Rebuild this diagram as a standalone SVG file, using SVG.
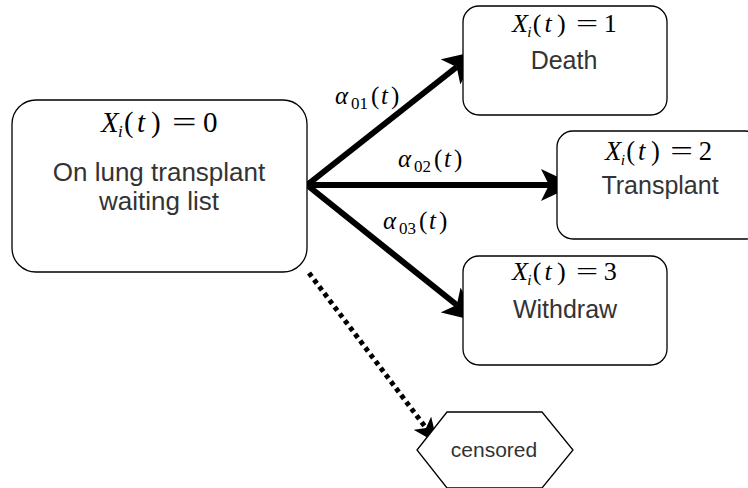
<svg xmlns="http://www.w3.org/2000/svg" width="748" height="488" viewBox="0 0 748 488">
<style>
.box{fill:#fff;stroke:#000;stroke-width:1.3}
.lbl{font-family:"Liberation Sans",Arial,sans-serif;font-size:25px;fill:#333;text-anchor:middle}
.big{font-size:26px}
.sm{font-family:"Liberation Sans",Arial,sans-serif;font-size:21px;fill:#333;text-anchor:middle}
.m{font-family:"Liberation Serif","Times New Roman",serif;font-size:29px;fill:#000}
.ma{font-family:"Liberation Serif","Times New Roman",serif;font-size:25px;fill:#000}
.i{font-style:italic}
.sub{font-size:17px}
.e{fill:none;stroke:#000;stroke-width:6}
.d{fill:none;stroke:#000;stroke-width:5;stroke-dasharray:4.5 4}
</style>
<defs>
<marker id="ah" viewBox="0 0 34 32" refX="8" refY="16" markerWidth="34" markerHeight="32" markerUnits="userSpaceOnUse" orient="auto">
<path d="M0,0 L34,16 L0,32 L8,16 Z" fill="#000"/>
</marker>
<marker id="ah2" viewBox="0 0 25 22" refX="6" refY="11" markerWidth="25" markerHeight="22" markerUnits="userSpaceOnUse" orient="auto">
<path d="M0,0 L25,11 L0,22 L6,11 Z" fill="#000"/>
</marker>
</defs>
<g id="connectors">
<line class="e" x1="307" y1="185" x2="456.7" y2="67" marker-end="url(#ah)"/>
<line class="e" x1="307" y1="185" x2="549" y2="185" marker-end="url(#ah)"/>
<line class="e" x1="307" y1="185" x2="456.8" y2="305" marker-end="url(#ah)"/>
<line class="d" x1="309" y1="273" x2="426" y2="428" marker-end="url(#ah2)"/>
<text class="ma" transform="translate(335,104)"><tspan class="i" x="0" y="0">α</tspan><tspan class="sub" x="16" y="5">01</tspan><tspan x="36" y="0">(</tspan><tspan class="i" x="46" y="0">t</tspan><tspan x="56" y="0">)</tspan></text>
<text class="ma" transform="translate(398,167)"><tspan class="i" x="0" y="0">α</tspan><tspan class="sub" x="16" y="5">02</tspan><tspan x="36" y="0">(</tspan><tspan class="i" x="46" y="0">t</tspan><tspan x="56" y="0">)</tspan></text>
<text class="ma" transform="translate(383,229)"><tspan class="i" x="0" y="0">α</tspan><tspan class="sub" x="16" y="5">03</tspan><tspan x="36" y="0">(</tspan><tspan class="i" x="46" y="0">t</tspan><tspan x="56" y="0">)</tspan></text>
</g>
<g id="waiting">
<rect class="box" x="12" y="100" width="295" height="172" rx="24"/>
<g transform="translate(101,132)">
<text class="m"><tspan class="i" x="0" y="0">X</tspan><tspan class="i sub" x="17" y="5">i</tspan><tspan x="23" y="0">(</tspan><tspan class="i" x="36" y="0">t</tspan><tspan x="50" y="0">)</tspan><tspan x="102" y="0">0</tspan></text>
<text class="m" transform="translate(71,0) scale(1.5,1)">=</text>
</g>
<text class="lbl big" x="159" y="181">On lung transplant</text>
<text class="lbl big" x="159" y="210">waiting list</text>
</g>
<g id="death">
<rect class="box" x="463" y="6" width="204" height="109" rx="16"/>
<g transform="translate(512,32) scale(0.9)">
<text class="m"><tspan class="i" x="0" y="0">X</tspan><tspan class="i sub" x="17" y="5">i</tspan><tspan x="23" y="0">(</tspan><tspan class="i" x="36" y="0">t</tspan><tspan x="50" y="0">)</tspan><tspan x="102" y="0">1</tspan></text>
<text class="m" transform="translate(71,0) scale(1.5,1)">=</text>
</g>
<text class="lbl" x="564" y="69">Death</text>
</g>
<g id="transplant">
<rect class="box" x="557" y="131" width="204" height="108" rx="16"/>
<g transform="translate(605,160) scale(0.92)">
<text class="m"><tspan class="i" x="0" y="0">X</tspan><tspan class="i sub" x="17" y="5">i</tspan><tspan x="23" y="0">(</tspan><tspan class="i" x="36" y="0">t</tspan><tspan x="50" y="0">)</tspan><tspan x="102" y="0">2</tspan></text>
<text class="m" transform="translate(71,0) scale(1.5,1)">=</text>
</g>
<text class="lbl" x="660" y="194">Transplant</text>
</g>
<g id="withdraw">
<rect class="box" x="463" y="256" width="204" height="109" rx="16"/>
<g transform="translate(512,280) scale(0.9)">
<text class="m"><tspan class="i" x="0" y="0">X</tspan><tspan class="i sub" x="17" y="5">i</tspan><tspan x="23" y="0">(</tspan><tspan class="i" x="36" y="0">t</tspan><tspan x="50" y="0">)</tspan><tspan x="102" y="0">3</tspan></text>
<text class="m" transform="translate(71,0) scale(1.5,1)">=</text>
</g>
<text class="lbl" x="565" y="318">Withdraw</text>
</g>
<g id="censored">
<polygon class="box" points="417,450 447,412 542,412 573,450 542,488 447,488"/>
<text class="sm" x="494" y="457">censored</text>
</g>
</svg>
